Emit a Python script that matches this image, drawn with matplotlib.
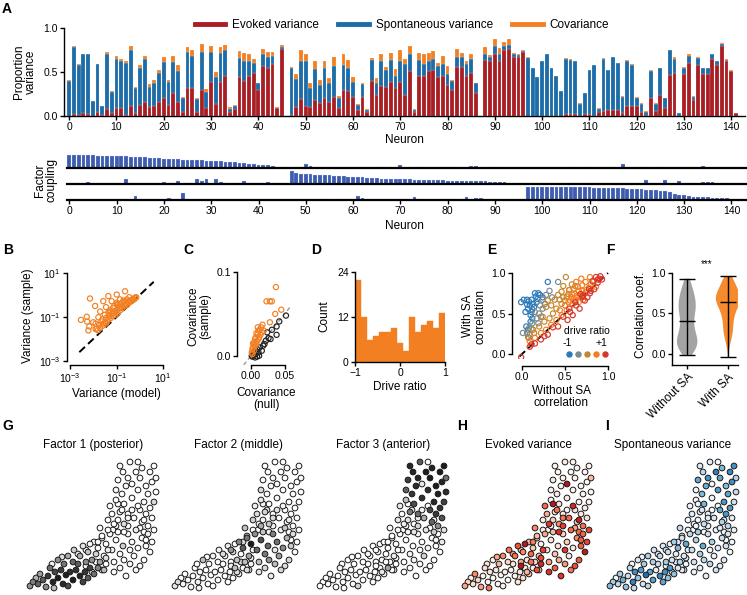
import numpy as np
import matplotlib
matplotlib.use("Agg")
from matplotlib import pyplot as plt
from matplotlib.lines import Line2D
from matplotlib.ticker import NullLocator

W, H = 747, 595
plt.rcParams['font.family'] = ['Liberation Sans', 'DejaVu Sans']
plt.rcParams['font.size'] = 7.5
plt.rcParams['axes.linewidth'] = 1.0
plt.rcParams['xtick.major.width'] = 1.0
plt.rcParams['ytick.major.width'] = 1.0
plt.rcParams['xtick.major.size'] = 3
plt.rcParams['ytick.major.size'] = 3
plt.rcParams['xtick.major.pad'] = 1.5
plt.rcParams['ytick.major.pad'] = 1.5
plt.rcParams['xtick.labelsize'] = 7.5
plt.rcParams['ytick.labelsize'] = 7.5
plt.rcParams['mathtext.default'] = 'regular'

RED = "#a81e24"
BLUE = "#1b6ca8"
ORANGE = "#f28023"
FBLUE = "#3d5caf"
DRIVE_COLORS = ["#2b7bba", "#7d8a8c", "#c6872c", "#f47d20", "#d8352a"]

# ── panel A : variance partition per neuron ────────────────────────────
evoked = [
    0.00, 0.02, 0.01, 0.03, 0.02, 0.00, 0.04, 0.01, 0.08, 0.03,
    0.09, 0.09, 0.01, 0.11, 0.03, 0.13, 0.16, 0.10, 0.11, 0.16,
    0.20, 0.13, 0.26, 0.16, 0.05, 0.32, 0.32, 0.05, 0.30, 0.09,
    0.39, 0.14, 0.39, 0.46, 0.05, 0.08, 0.44, 0.40, 0.46, 0.49,
    0.30, 0.57, 0.54, 0.59, 0.09, 0.76, 0.00, 0.01, 0.10, 0.19,
    0.11, 0.10, 0.18, 0.15, 0.21, 0.16, 0.22, 0.09, 0.30, 0.28,
    0.22, 0.07, 0.22, 0.04, 0.40, 0.24, 0.34, 0.33, 0.39, 0.32,
    0.39, 0.24, 0.51, 0.05, 0.46, 0.46, 0.51, 0.52, 0.44, 0.46,
    0.35, 0.29, 0.56, 0.56, 0.46, 0.49, 0.26, 0.00, 0.64, 0.62,
    0.70, 0.63, 0.75, 0.76, 0.67, 0.67, 0.73, 0.00, 0.00, 0.00,
    0.00, 0.00, 0.00, 0.00, 0.00, 0.02, 0.02, 0.02, 0.00, 0.02,
    0.02, 0.00, 0.05, 0.06, 0.07, 0.07, 0.07, 0.03, 0.11, 0.11,
    0.11, 0.05, 0.01, 0.20, 0.06, 0.24, 0.09, 0.47, 0.49, 0.00,
    0.48, 0.60, 0.18, 0.58, 0.48, 0.48, 0.65, 0.58, 0.79, 0.62,
    0.51, 0.03, 0.00]
spont = [
    0.40, 0.76, 0.57, 0.67, 0.68, 0.17, 0.55, 0.10, 0.62, 0.24,
    0.56, 0.53, 0.59, 0.64, 0.29, 0.41, 0.49, 0.23, 0.26, 0.33,
    0.41, 0.26, 0.35, 0.35, 0.16, 0.41, 0.36, 0.14, 0.43, 0.18,
    0.34, 0.30, 0.33, 0.29, 0.03, 0.03, 0.22, 0.23, 0.17, 0.11,
    0.07, 0.13, 0.13, 0.09, 0.00, 0.02, 0.00, 0.53, 0.32, 0.43,
    0.51, 0.22, 0.35, 0.20, 0.33, 0.21, 0.35, 0.11, 0.28, 0.26,
    0.17, 0.06, 0.14, 0.03, 0.24, 0.13, 0.28, 0.19, 0.25, 0.14,
    0.24, 0.35, 0.19, 0.02, 0.18, 0.13, 0.11, 0.13, 0.13, 0.13,
    0.13, 0.11, 0.11, 0.11, 0.13, 0.16, 0.11, 0.00, 0.07, 0.05,
    0.09, 0.08, 0.04, 0.05, 0.03, 0.02, 0.01, 0.66, 0.54, 0.44,
    0.62, 0.70, 0.54, 0.45, 0.28, 0.63, 0.62, 0.60, 0.14, 0.24,
    0.50, 0.58, 0.03, 0.59, 0.45, 0.60, 0.53, 0.19, 0.52, 0.47,
    0.10, 0.09, 0.04, 0.31, 0.08, 0.30, 0.11, 0.28, 0.16, 0.03,
    0.06, 0.08, 0.04, 0.08, 0.06, 0.06, 0.05, 0.04, 0.03, 0.02,
    0.00, 0.00, 0.00]
covar = [
    0.01, 0.02, 0.01, 0.005, 0.005, 0.003, 0.005, 0.003, 0.03, 0.01,
    0.03, 0.03, 0.02, 0.05, 0.01, 0.04, 0.03, 0.03, 0.04, 0.03,
    0.06, 0.02, 0.07, 0.07, 0.01, 0.05, 0.07, 0.01, 0.09, 0.04,
    0.06, 0.06, 0.06, 0.06, 0.02, 0.02, 0.08, 0.09, 0.08, 0.05,
    0.01, 0.06, 0.06, 0.05, 0.01, 0.03, 0.00, 0.02, 0.06, 0.13,
    0.08, 0.05, 0.10, 0.06, 0.08, 0.06, 0.10, 0.03, 0.12, 0.10,
    0.05, 0.01, 0.01, 0.01, 0.02, 0.06, 0.09, 0.04, 0.08, 0.07,
    0.12, 0.06, 0.10, 0.01, 0.08, 0.11, 0.10, 0.09, 0.03, 0.09,
    0.09, 0.01, 0.09, 0.05, 0.03, 0.06, 0.01, 0.00, 0.07, 0.02,
    0.08, 0.06, 0.05, 0.06, 0.02, 0.02, 0.01, 0.01, 0.01, 0.005,
    0.01, 0.01, 0.005, 0.005, 0.005, 0.01, 0.01, 0.005, 0.005, 0.005,
    0.005, 0.005, 0.01, 0.005, 0.005, 0.005, 0.005, 0.005, 0.01, 0.01,
    0.005, 0.005, 0.003, 0.01, 0.005, 0.005, 0.005, 0.005, 0.02, 0.00,
    0.02, 0.02, 0.01, 0.01, 0.01, 0.01, 0.01, 0.01, 0.01, 0.01,
    0.01, 0.00, 0.00]

# factor coupling (3 factors x 143 neurons)
f1 = [
    1.00, 0.99, 0.98, 0.97, 0.96, 0.95, 0.93, 0.92, 0.91, 0.90,
    0.89, 0.88, 0.87, 0.86, 0.85, 0.80, 0.79, 0.78, 0.76, 0.73,
    0.70, 0.69, 0.67, 0.64, 0.62, 0.60, 0.59, 0.58, 0.57, 0.55,
    0.52, 0.50, 0.49, 0.47, 0.45, 0.42, 0.40, 0.38, 0.33, 0.30,
    0.26, 0.24, 0.20, 0.16, 0.10, 0.05, 0.00, 0.00, 0.00, 0.00,
    0.32, 0.12, 0.06, 0, 0, 0, 0, 0, 0, 0,
    0, 0, 0, 0, 0, 0, 0.08, 0, 0, 0,
    0.25, 0, 0, 0, 0.08, 0, 0, 0, 0, 0.08,
    0.08, 0, 0, 0, 0, 0.15, 0.12, 0, 0, 0,
    0.05, 0, 0, 0, 0.02, 0, 0, 0, 0, 0,
    0, 0.02, 0, 0, 0, 0, 0, 0.05, 0, 0,
    0.10, 0, 0, 0, 0, 0, 0, 0.28, 0, 0,
    0, 0, 0.08, 0, 0, 0.07, 0, 0, 0, 0,
    0, 0, 0, 0, 0.15, 0, 0, 0, 0, 0,
    0, 0, 0]
f2 = [
    0.08, 0, 0, 0, 0.12, 0, 0, 0, 0, 0.03,
    0, 0, 0.40, 0.08, 0, 0, 0, 0, 0, 0,
    0.12, 0, 0, 0.25, 0, 0.10, 0, 0.40, 0.20, 0.38,
    0, 0.40, 0.12, 0, 0, 0, 0.10, 0.25, 0.10, 0,
    0, 0.10, 0.15, 0.10, 0, 0, 0, 1.00, 0.84, 0.78,
    0.74, 0.72, 0.70, 0.68, 0.66, 0.64, 0.62, 0.60, 0.58, 0.56,
    0.55, 0.53, 0.50, 0.47, 0.45, 0.43, 0.41, 0.40, 0.39, 0.38,
    0.37, 0.36, 0.35, 0.32, 0.30, 0.29, 0.28, 0.28, 0.27, 0.27,
    0.26, 0.26, 0.25, 0.25, 0.24, 0.24, 0.23, 0.22, 0.20, 0.18,
    0.17, 0.15, 0.12, 0.10, 0.09, 0.07, 0.05, 0, 0, 0,
    0.03, 0, 0, 0.02, 0, 0, 0.05, 0, 0, 0.04,
    0.04, 0, 0.05, 0, 0, 0, 0.03, 0, 0, 0,
    0, 0, 0.28, 0, 0, 0.08, 0.30, 0, 0, 0.20,
    0, 0.10, 0.10, 0, 0.12, 0.14, 0.14, 0, 0.06, 0,
    0, 0, 0]
f3 = [
    0, 0, 0, 0, 0, 0, 0.03, 0, 0, 0,
    0, 0, 0, 0, 0.30, 0.05, 0, 0, 0, 0,
    0, 0.12, 0, 0, 0.50, 0, 0, 0, 0, 0,
    0, 0, 0, 0, 0, 0, 0, 0, 0, 0,
    0, 0, 0, 0, 0, 0, 0, 0, 0, 0,
    0, 0, 0, 0, 0.10, 0, 0, 0.10, 0, 0.10,
    0, 0.30, 0.15, 0, 0, 0, 0, 0, 0, 0,
    0, 0.08, 0, 0.20, 0, 0, 0, 0, 0, 0.10,
    0.10, 0, 0, 0, 0.20, 0, 0.18, 0.12, 0, 0,
    0, 0.03, 0, 0, 0, 0, 0, 1.00, 1.00, 0.99,
    0.99, 0.98, 0.98, 0.97, 0.97, 0.96, 0.96, 0.95, 0.95, 0.94,
    0.94, 0.93, 0.93, 0.92, 0.91, 0.90, 0.89, 0.88, 0.86, 0.84,
    0.82, 0.79, 0.76, 0.74, 0.72, 0.70, 0.66, 0.58, 0.48, 0.40,
    0.34, 0.28, 0.24, 0.22, 0.20, 0.19, 0.18, 0.17, 0.16, 0.14,
    0.10, 0.04, 0.00]

# ── panel B : variance, model vs sample (log10 values) ─────────────────
b_model_log = [
    -2.53, -2.28, -2.14, -1.92, -2.26, -2.17, -2.21, -2.00, -1.78, -1.57,
    -1.35, -1.21, -0.99, -0.63, -0.99, -1.85, -1.70, -1.45, -1.60, -1.30,
    -1.10, -0.85, -0.70, -1.90, -1.50,
    -1.90, -1.80, -1.75, -1.70, -1.65, -1.60, -1.55, -1.50, -1.45, -1.40,
    -1.35, -1.30, -1.25, -1.20, -1.15, -1.10, -1.05, -1.00, -0.95, -0.90,
    -0.85, -0.80, -0.75, -0.70, -0.65, -0.60, -0.55, -0.50, -0.45, -0.40,
    -0.35, -0.30, -0.25, -0.20, -0.15, -1.15, -0.95, -0.75, -1.35, -0.55,
    -0.45, -0.65, -1.00, -0.85, -1.45, -1.25, -0.30, -0.20]
b_sample_log = [
    -1.13, -0.99, -0.16, -0.50, -1.21, -1.43, -1.61, -1.24, -1.01, -0.28,
    -0.05, -0.28, 0.02, 0.17, -0.42, -1.53, -0.75, -0.55, -1.10, -0.70,
    -0.50, -0.20, -0.25, -1.30, -0.90,
    -1.55, -1.60, -1.35, -1.50, -1.20, -1.40, -1.30, -1.25, -1.05, -1.20,
    -1.10, -0.95, -1.05, -0.85, -0.95, -0.80, -0.90, -0.70, -0.80, -0.60,
    -0.70, -0.55, -0.60, -0.45, -0.50, -0.40, -0.45, -0.30, -0.35, -0.25,
    -0.28, -0.18, -0.20, -0.12, -0.10, -0.60, -0.45, -0.35, -0.80, -0.20,
    -0.10, -0.30, -0.35, -0.40, -1.30, -0.75, -0.22, -0.15]

# ── panel C : covariance, null vs sample ───────────────────────────────
c_null_sig = [0.037, 0.023, 0.028, 0.031, 0.045, 0.036, 0.028, 0.017, 0.013, 0.011,
              0.010, 0.008, 0.007, 0.006, 0.012, 0.009, 0.005, 0.004, 0.006, 0.003,
              0.002, 0.004, 0.001, 0.002, 0.014, 0.015, 0.010, 0.019, 0.008, 0.003,
              0.016, 0.011]
c_samp_sig = [0.082, 0.065, 0.065, 0.065, 0.055, 0.050, 0.040, 0.037, 0.031, 0.030,
              0.026, 0.027, 0.022, 0.020, 0.022, 0.018, 0.016, 0.013, 0.012, 0.010,
              0.008, 0.006, 0.004, 0.002, 0.025, 0.034, 0.034, 0.030, 0.014, 0.015,
              0.028, 0.020]
c_null_ns = [0.052, 0.042, 0.038, 0.031, 0.024, 0.038, 0.029, 0.022, 0.018, 0.013,
             0.009, 0.016, 0.011, 0.007, 0.004, 0.002, 0.006, 0.009, 0.012, 0.003,
             0.001, 0.005, 0.020, 0.026]
c_samp_ns = [0.048, 0.041, 0.035, 0.031, 0.028, 0.025, 0.020, 0.018, 0.012, 0.010,
             0.008, 0.006, 0.004, 0.003, 0.001, -0.001, -0.002, -0.001, 0.000, 0.002,
             0.000, 0.005, 0.014, 0.021]

# ── panel D : drive ratio histogram ────────────────────────────────────
d_edges = [-1.0, -0.867, -0.733, -0.6, -0.467, -0.333, -0.2, -0.067,
           0.067, 0.2, 0.333, 0.467, 0.6, 0.733, 0.867, 1.0]
d_counts = [22, 12, 6, 7, 8, 8, 9, 5, 3, 12, 8, 10, 11, 9, 13]

# ── panel E : correlation without / with SA, by drive ratio group ──────
e_without = [
    [0.30, 0.02, -0.01, 0.06, 0.11, 0.15, 0.19, 0.21, 0.16, 0.13, 0.09, 0.07, 0.04,
     0.11, 0.12, 0.10, 0.05, 0.07, 0.08, 0.14, 0.18, 0.10, 0.24, 0.06, 0.12, 0.17],
    [0.42, 0.28, 0.24, 0.21, 0.24, 0.20, 0.17, 0.12, 0.08, 0.06, 0.07, 0.19, 0.01,
     0.11, 0.32, 0.27, 0.35, 0.15, 0.22, 0.09],
    [0.51, 0.46, 0.42, 0.52, 0.38, 0.34, 0.28, 0.40, 0.46, 0.24, 0.26, 0.13, 0.08,
     0.44, 0.55, 0.36, 0.30, 0.48, 0.58, 0.20, 0.32, 0.50, 0.14, 0.60,
     0.54, 0.48, 0.62],
    [0.63, 0.69, 0.74, 0.79, 0.55, 0.61, 0.67, 0.59, 0.52, 0.46, 0.40, 0.34, 0.28,
     0.22, 0.15, 0.09, 0.83, 0.86, 0.75, 0.71, 0.65, 0.57, 0.62, 0.70, 0.78, 0.50,
     0.44, 0.66, 0.72, 0.80, 0.58, 0.54,
     0.64, 0.60, 0.56, 0.74, 0.66, 0.70],
    [0.86, 0.90, 0.93, 0.82, 0.79, 0.71, 0.67, 0.59, 0.53, 0.42, 0.30, 0.22, 0.15,
     0.09, -0.01, 0.88, 0.76, 0.63, 0.48, 0.36, 0.84, 0.91, 0.73, 0.56, 0.26, 0.11,
     0.80, 0.78, 0.70, 0.62, 0.55, 0.68, 0.88]]
e_with = [
    [0.89, 0.67, 0.64, 0.67, 0.67, 0.75, 0.75, 0.73, 0.71, 0.62, 0.60, 0.56, 0.52,
     0.52, 0.44, 0.40, 0.34, 0.30, 0.65, 0.58, 0.68, 0.48, 0.70, 0.61, 0.55, 0.64],
    [0.89, 0.73, 0.67, 0.60, 0.56, 0.50, 0.44, 0.38, 0.32, 0.26, 0.21, 0.38, 0.26,
     0.31, 0.78, 0.62, 0.70, 0.52, 0.46, 0.24],
    [0.95, 0.77, 0.73, 0.71, 0.67, 0.60, 0.58, 0.56, 0.62, 0.46, 0.40, 0.30, 0.20,
     0.67, 0.79, 0.50, 0.66, 0.84, 0.86, 0.34, 0.44, 0.66, 0.26, 0.80,
     0.74, 0.70, 0.84],
    [0.89, 0.93, 0.89, 0.95, 0.79, 0.75, 0.71, 0.62, 0.54, 0.48, 0.42, 0.36, 0.30,
     0.26, 0.20, 0.16, 0.89, 0.83, 0.79, 0.67, 0.83, 0.70, 0.66, 0.85, 0.82, 0.60,
     0.54, 0.78, 0.74, 0.86, 0.74, 0.64,
     0.72, 0.68, 0.66, 0.76, 0.64, 0.78],
    [0.95, 0.93, 0.92, 0.90, 0.75, 0.72, 0.56, 0.48, 0.42, 0.34, 0.24, 0.18, 0.13,
     0.09, -0.04, 0.88, 0.70, 0.60, 0.46, 0.33, 0.80, 0.96, 0.66, 0.52, 0.22, 0.12,
     0.78, 0.80, 0.70, 0.64, 0.56, 0.74, 0.92]]

# ── panels G-I : neuron positions ──────────────────────────────────────
pos_x = [30, 38, 45, 52, 25, 35, 42, 48, 57, 20,
         33, 55, 62, 27, 40, 60, 15, 50, 10, 45,
         66, 22, 36, 5, 70, 18, 58, 30, 2, 64,
         12, 72, 40, 52, 8, 76, 26, 60, 46, 68,
         34, 78, 55, 80, 24, 62, 85, 78, 88, 70,
         95, 84, 104, 74, 92, 100, 66, 110, 82, 96,
         58, 106, 76, 88, 114, 74, 102, 86, 72, 112,
         96, 90, 118, 80, 108, 68, 92, 116, 70, 100,
         50, 84, 112, 74, 94, 120, 64, 104, 86, 102,
         116, 98, 58, 90, 110, 78, 122, 122, 112, 118,
         126, 108, 120, 114, 95, 124, 100, 116, 92, 128,
         98, 110, 104, 122, 94, 118, 90, 126, 112, 96,
         124, 102, 88, 114, 100, 128, 92, 120, 106, 88,
         116, 100, 90, 126, 108, 82, 96, 124, 104, 86,
         118, 80, 110]
pos_y = [12, 15, 10, 14, 8, 6, 18, 20, 18, 14,
         20, 8, 22, 18, 4, 12, 10, 26, 6, 28,
         16, 22, 26, 8, 22, 3, 28, 30, 4, 30,
         16, 28, 34, 34, 12, 20, 2, 38, 40, 36,
         33, 32, 44, 40, 26, 46, 60, 46, 50, 42,
         44, 40, 48, 52, 36, 56, 48, 42, 56, 30,
         40, 34, 34, 64, 52, 54, 26, 28, 62, 62,
         66, 58, 44, 70, 20, 28, 22, 30, 48, 72,
         36, 76, 24, 20, 80, 56, 18, 80, 18, 40,
         70, 14, 24, 86, 84, 26, 38, 118, 112, 104,
         124, 118, 96, 122, 118, 108, 112, 88, 124, 98,
         104, 100, 92, 82, 96, 76, 110, 88, 80, 86,
         72, 128, 100, 68, 76, 112, 78, 64, 72, 90,
         58, 64, 70, 60, 60, 84, 58, 48, 106, 66,
         50, 60, 128]

for arr in (evoked, spont, covar, f1, f2, f3, pos_x, pos_y):
    assert len(arr) == 143, len(arr)

fig = plt.figure(figsize=(W / 100, H / 100), dpi=100)
fig.patch.set_facecolor('w')


def px_ax(left, top, right, bottom):
    return fig.add_axes([left / W, 1 - bottom / H,
                         (right - left) / W, (bottom - top) / H])


def ftext(x, y, s, **kw):
    kw.setdefault('ha', 'center')
    kw.setdefault('va', 'center')
    return fig.text(x / W, 1 - y / H, s, **kw)


def clean(ax):
    ax.spines['top'].set_visible(False)
    ax.spines['right'].set_visible(False)


neuron = np.arange(143)
ev = np.array(evoked)
sp = np.array(spont)
cv = np.array(covar)
EDGE = (1, 1, 1, 0.45)

# ── A ──────────────────────────────────────────────────────────────────
axA = px_ax(64, 28, 745, 116)
axA.bar(neuron, ev, width=0.8, color=RED, edgecolor=EDGE, linewidth=0.3)
axA.bar(neuron, sp, width=0.8, bottom=ev, color=BLUE, edgecolor=EDGE, linewidth=0.3)
axA.bar(neuron, cv, width=0.8, bottom=ev + sp, color=ORANGE, edgecolor=EDGE, linewidth=0.3)
axA.set_xlim(-1.1, 142.9)
axA.set_ylim(0, 1.0)
axA.set_yticks([0, 0.5, 1.0], ['0.0', '0.5', '1.0'])
axA.set_xticks(range(0, 141, 10))
clean(axA)
ftext(25, 72, 'Proportion\nvariance', rotation=90, fontsize=8.5, linespacing=1.0)
ftext(404, 140, 'Neuron', fontsize=8.5)
handles = [Line2D([], [], color=c, lw=3.5) for c in (RED, BLUE, ORANGE)]
fig.legend(handles, ['Evoked variance', 'Spontaneous variance', 'Covariance'],
           loc='center', bbox_to_anchor=(402 / W, 1 - 25 / H), ncol=3,
           frameon=False, fontsize=8.5, handlelength=2.6, columnspacing=1.6,
           handletextpad=0.6)

for k, (vals, base) in enumerate(zip((f1, f2, f3), (168, 184, 200))):
    ax = px_ax(67, base - 14, 747, base)
    ax.bar(neuron, vals, width=0.8, color=FBLUE, edgecolor=(0.85, 0.88, 1, 0.6),
           linewidth=0.3)
    ax.set_xlim(-0.5, 143.3)
    ax.set_ylim(0, 1.05)
    for s in ('top', 'right', 'left'):
        ax.spines[s].set_visible(False)
    ax.spines['bottom'].set_linewidth(1.6)
    ax.set_yticks([])
    if k < 2:
        ax.set_xticks([])
    else:
        ax.set_xticks(range(0, 141, 10))
ftext(46, 180, 'Factor\ncoupling', rotation=90, fontsize=8.5, linespacing=1.0)
ftext(404, 226, 'Neuron', fontsize=8.5)

MS = 14
MLW = 0.85

# ── B ──────────────────────────────────────────────────────────────────
axB = px_ax(70, 273, 163, 361)
axB.set_xscale('log')
axB.set_yscale('log')
axB.plot([10 ** -2.6, 10 ** 0.6], [10 ** -2.6, 10 ** 0.6], color='k', lw=1.4,
         dashes=(4, 2.2), zorder=1)
axB.scatter(10 ** np.array(b_model_log), 10 ** np.array(b_sample_log), s=MS,
            facecolors='none', edgecolors=ORANGE, linewidths=MLW, zorder=2)
axB.set_xlim(1e-3, 1e1)
axB.set_ylim(1e-3, 1e1)
axB.set_xticks([1e-3, 1e-1, 1e1])
axB.set_yticks([1e-3, 1e-1, 1e1])
axB.xaxis.set_minor_locator(NullLocator())
axB.yaxis.set_minor_locator(NullLocator())
clean(axB)
axB.spines['left'].set_position(('outward', 2.2))
axB.spines['bottom'].set_position(('outward', 3.0))
ftext(28, 316, 'Variance (sample)', rotation=90, fontsize=8.5)
ftext(116, 394, 'Variance (model)', fontsize=8.5)

# ── C ──────────────────────────────────────────────────────────────────
axC = px_ax(243, 272, 290, 365)
axC.plot([-0.011, 0.058], [-0.011, 0.058], color='#999999', lw=1.0,
         dashes=(3, 2), zorder=1)
axC.scatter(c_null_ns, c_samp_ns, s=MS, facecolors='none', edgecolors='#222222',
            linewidths=MLW, zorder=2)
axC.scatter(c_null_sig, c_samp_sig, s=MS, facecolors='none', edgecolors=ORANGE,
            linewidths=MLW, zorder=3)
axC.set_xlim(-0.012, 0.058)
axC.set_ylim(-0.011, 0.1)
axC.set_xticks([0, 0.05], ['0.00', '0.05'])
axC.set_yticks([0, 0.1], ['0.0', '0.1'])
clean(axC)
axC.spines['left'].set_position(('outward', 4.3))
axC.spines['left'].set_bounds(0, 0.1)
axC.spines['bottom'].set_bounds(0, 0.05)
ftext(199, 316, 'Covariance\n(sample)', rotation=90, fontsize=8.5, linespacing=1.0)
ftext(266, 399, 'Covariance\n(null)', fontsize=8.5, linespacing=1.0)

# ── D ──────────────────────────────────────────────────────────────────
axD = px_ax(355, 272, 445, 362)
widths = np.diff(d_edges)
axD.bar(d_edges[:-1], d_counts, width=widths, align='edge', color=ORANGE,
        edgecolor=ORANGE, linewidth=0.3)
axD.set_xlim(-1, 1)
axD.set_ylim(0, 24)
axD.set_xticks([-1, 0, 1], ['\u22121', '0', '1'])
axD.set_yticks([0, 12, 24])
clean(axD)
ftext(324, 316, 'Count', rotation=90, fontsize=8.5)
ftext(400, 387, 'Drive ratio', fontsize=8.5)

# ── E ──────────────────────────────────────────────────────────────────
axE = px_ax(517.7, 271.4, 609.7, 358.9)
axE.plot([-0.03, 1.0], [-0.03, 1.0], color='k', lw=1.4, dashes=(4, 2.2), zorder=1)
for g in range(5):
    axE.scatter(e_without[g], e_with[g], s=MS, facecolors='none',
                edgecolors=DRIVE_COLORS[g], linewidths=MLW, zorder=2 + g)
axE.set_xlim(-0.05, 1.02)
axE.set_ylim(-0.06, 1.02)
axE.set_xticks([0, 0.5, 1.0], ['0.0', '0.5', '1.0'])
axE.set_yticks([0, 0.5, 1.0], ['0.0', '0.5', '1.0'])
clean(axE)
axE.spines['left'].set_position(('outward', 4))
axE.spines['bottom'].set_position(('outward', 5))
axE.spines['left'].set_bounds(0, 1)
axE.spines['bottom'].set_bounds(0, 1)
dots = [Line2D([], [], ls='none', marker='o', ms=3.6, color=c, mec=c)
        for c in DRIVE_COLORS]
fig.legend(dots, [''] * 5, loc='center', bbox_to_anchor=(587 / W, 1 - 354 / H),
           ncol=5, frameon=False, handlelength=0.5, handletextpad=0.0,
           columnspacing=0.45, borderpad=0, borderaxespad=0, fontsize=7)
ftext(587, 331, 'drive ratio', fontsize=7.5)
ftext(567, 343, '-1', fontsize=7.5)
ftext(601, 343, '+1', fontsize=7.5)
ftext(474, 316, 'With SA\ncorrelation', rotation=90, fontsize=8.5, linespacing=1.0)
ftext(561, 397, 'Without SA\ncorrelation', fontsize=8.5, linespacing=1.0)

# ── F ──────────────────────────────────────────────────────────────────
axF = px_ax(672, 273, 738, 365)
without_all = np.concatenate([np.array(v) for v in e_without])
with_all = np.concatenate([np.array(v) for v in e_with])
vp = axF.violinplot([without_all, with_all], positions=[0, 1], widths=[0.5, 0.6],
                    showextrema=False)
for body, col in zip(vp['bodies'], ('#a3a3a3', '#f58a2e')):
    body.set_facecolor(col)
    body.set_edgecolor('none')
    body.set_alpha(1)
for pos, d in zip((0, 1), (without_all, with_all)):
    lo, hi, med = d.min(), d.max(), np.median(d)
    axF.vlines(pos, lo, hi, color='k', lw=1.0)
    axF.hlines([lo, hi, med], pos - 0.19, pos + 0.19, color='k', lw=1.0)
axF.set_xlim(-0.37, 1.24)
axF.set_ylim(-0.136, 1.0)
axF.set_yticks([0, 0.5, 1.0], ['0.0', '0.5', '1.0'])
axF.set_xticks([0, 1])
axF.set_xticklabels(['Without SA', 'With SA'], rotation=45, ha='right',
                    rotation_mode='anchor', fontsize=8.5)
clean(axF)
ftext(641, 315, 'Correlation coef.', rotation=90, fontsize=8.5)
ftext(707, 264, '***', fontsize=7)

# ── G, H, I ────────────────────────────────────────────────────────────
maps = [(f1, 'Greys', 1.1, 'Factor 1 (posterior)'),
        (f2, 'Greys', 1.1, 'Factor 2 (middle)'),
        (f3, 'Greys', 1.1, 'Factor 3 (anterior)'),
        (evoked, 'Reds', 0.95, 'Evoked variance'),
        (spont, 'Blues', 1.0, 'Spontaneous variance')]
px = np.array(pos_x)
py = np.array(pos_y)
for k, (vals, cmap, vmax, title) in enumerate(maps):
    left = 23 + 145 * k
    ax = px_ax(left, 457, left + 140, 595)
    v = np.array(vals)
    order = np.argsort(v)
    ax.scatter(px[order], py[order], c=v[order], cmap=cmap, vmin=0, vmax=vmax,
               s=17, edgecolors='#1a1a1a', linewidths=0.7)
    ax.set_xlim(-5, 135)
    ax.set_ylim(-5, 133)
    ax.axis('off')
    ftext(left + 70, 445, title, fontsize=8.5)

# panel letters
for s, x, y in [('A', 7, 9), ('B', 8, 250), ('C', 188, 250), ('D', 316, 250),
                ('E', 492, 250), ('F', 610, 250), ('G', 8, 426), ('H', 462, 426),
                ('I', 607, 426)]:
    ftext(x, y, s, fontsize=10, fontweight='bold')

fig.savefig('out.png', dpi=100)
